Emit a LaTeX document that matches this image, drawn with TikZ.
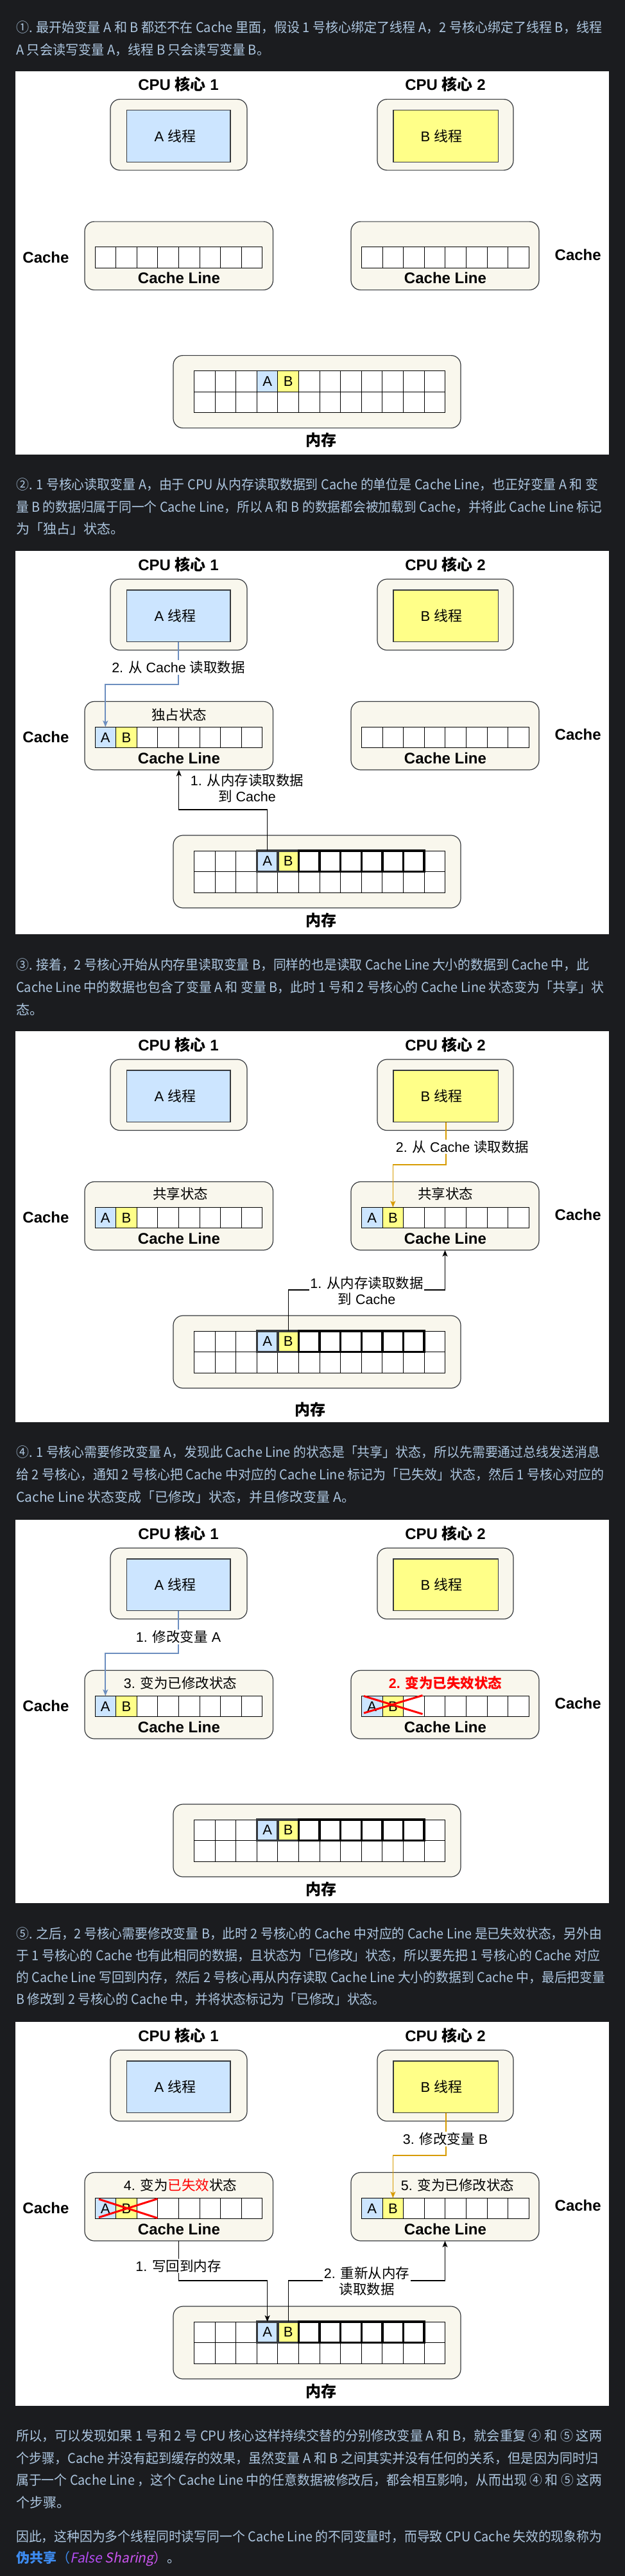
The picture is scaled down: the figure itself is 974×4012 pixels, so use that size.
\documentclass[tikz,border=0pt]{standalone}
\usepackage{fontspec}
\usepackage{graphicx}
\setmainfont{Liberation Sans}
\newfontfamily\cjk{Noto Sans CJK SC}
\newfontfamily\cjkit[FakeSlant=0.2]{Noto Sans CJK SC}
\usetikzlibrary{arrows.meta}
\definecolor{bgdark}{HTML}{1B1C1F}
\definecolor{ptext}{HTML}{ADC6E0}
\definecolor{cream}{HTML}{F9F7ED}
\definecolor{edgegray}{HTML}{36393D}
\definecolor{threadblue}{HTML}{CCE5FF}
\definecolor{threadyellow}{HTML}{FFFF88}
\definecolor{arrowblue}{HTML}{6C8EBF}
\definecolor{arroworange}{HTML}{D79B00}
\definecolor{fsblue}{HTML}{3D8BF0}
\definecolor{fspurple}{HTML}{B24CF2}
\definecolor{fspink}{HTML}{CC55F0}
\tikzset{
  title/.style={font=\fontsize{24}{28}\selectfont\bfseries, inner sep=0pt},
  outerbox/.style={draw=edgegray, fill=cream, line width=1.2pt, rounded corners=15pt, inner sep=0pt, outer sep=0pt},
  thbox/.style={draw=edgegray, line width=1.2pt, inner sep=0pt, outer sep=0pt},
  thlbl/.style={font=\fontsize{22}{26}\selectfont, inner sep=0pt},
  cell/.style={draw=black, fill=white, line width=1pt, minimum width=32.6pt, minimum height=32.5pt, inner sep=0pt, outer sep=0pt, font=\fontsize{22}{26}\selectfont},
  statelbl/.style={font=\fontsize{21.5}{25}\selectfont, inner sep=0pt},
  elbl/.style={font=\fontsize{21.5}{25}\selectfont, inner sep=1.5pt, fill=white, align=center},
  conn/.style={line width=1.2pt, -{Stealth[length=10pt,width=8pt,inset=2.5pt]}},
  blk/.style={conn, draw=black},
  blu/.style={conn, draw=arrowblue, line width=1.8pt},
  org/.style={conn, draw=arroworange, line width=1.8pt},
  hlgray/.style={draw=edgegray, line width=3.5pt},
  hlblack/.style={draw=black, line width=3.5pt},
  redx/.style={draw=red, line width=3pt},
  para/.style={font=\cjk\fontsize{21}{25}\selectfont, text=ptext, inner sep=0pt, anchor=west},
}
\newcommand\panelbase[4]{%
  \fill[white] (24,0) rectangle (949,#2);
  \node[title] (#1ti1) at (278,21) {CPU {\cjk 核心} 1};
  \node[title] (#1ti2) at (694,21) {CPU {\cjk 核心} 2};
  \node[outerbox, minimum width=213pt, minimum height=110.5pt] (#1core1) at (278.5,99.25) {};
  \node[thbox, fill=threadblue, minimum width=161.5pt, minimum height=80.5pt] (#1thA) at (278.25,101.25) {};
  \node[thlbl] (#1thAl) at (273,101.25) {A {\cjk 线程}};
  \node[outerbox, minimum width=212pt, minimum height=110.5pt] (#1core2) at (694,99.25) {};
  \node[thbox, fill=threadyellow, minimum width=163.5pt, minimum height=80.5pt] (#1thB) at (694.75,101.25) {};
  \node[thlbl] (#1thBl) at (688,101.25) {B {\cjk 线程}};
  \node[outerbox, minimum width=293.5pt, minimum height=106.5pt] (#1cache1) at (278.75,287.75) {};
  \node[outerbox, minimum width=293pt, minimum height=106.5pt] (#1cache2) at (693.5,287.75) {};
  \node[title] (#1cl1) at (279,322.5) {Cache Line};
  \node[title] (#1cl2) at (694,322.5) {Cache Line};
  \node[title] (#1cL) at (71.5,290) {Cache};
  \node[title] (#1cR) at (900.7,286) {Cache};
  \node[outerbox, minimum width=448pt, minimum height=113pt] (#1mem) at (494,499.5) {};
  \node[title] (#1meml) at (#3,#4) {\cjk 内存};
}
\newcommand\cacherow[3]{%
  \ifnum#3=1
    \node[cell, fill=threadblue] (#10) at (#2,290.5) {A};
    \node[cell, fill=threadyellow] (#11) at ({#2+32.6},290.5) {B};
  \else
    \node[cell] (#10) at (#2,290.5) {};
    \node[cell] (#11) at ({#2+32.6},290.5) {};
  \fi
  \foreach \i in {2,...,7}{\node[cell] (#1\i) at ({#2+32.6*\i},290.5) {};}
}
\newcommand\memgrid[2]{%
  \foreach \i in {0,1,2,5,6,7,8,9,10,11}{\node[cell] (#1t\i) at ({318.8+32.6*\i},483.25) {};}
  \node[cell, fill=threadblue] (#1t3) at ({318.8+32.6*3},483.25) {A};
  \node[cell, fill=threadyellow] (#1t4) at ({318.8+32.6*4},483.25) {B};
  \foreach \i in {0,...,11}{\node[cell] (#1u\i) at ({318.8+32.6*\i},515.75) {};}
  \ifnum#2=1
    \draw[hlgray] (#1t3.north west) rectangle (#1t3.south east);
    \draw[hlgray] (#1t4.north west) rectangle (#1t4.south east);
    \foreach \i in {5,...,10}{\draw[hlblack] (#1t\i.north west) rectangle (#1t\i.south east);}
  \fi
}
\newcommand\pl[4]{\node[para] (#1) at (25,#2) {\resizebox{#3pt}{\height}{#4}};}
\newcommand\pn[3]{\node[para] (#1) at (25,#2) {#3};}
\begin{document}
\begin{tikzpicture}[x=1pt,y=-1pt]
\useasboundingbox (0,0) rectangle (974,4012);
\fill[bgdark] (0,0) rectangle (974,4012);

% ---------- paragraph 1
\pl{ta1}{43}{913}{①. 最开始变量 A 和 B 都还不在 Cache 里面，假设 1 号核心绑定了线程 A，2 号核心绑定了线程 B，线程}
\pl{ta2}{77.5}{395}{A 只会读写变量 A，线程 B 只会读写变量 B。}

% ---------- panel 1
\begin{scope}[shift={(0,110.6)}]
  \panelbase{pa}{597}{500}{575}
  \cacherow{paa}{164.3}{0}
  \cacherow{pab}{579.8}{0}
  \memgrid{pam}{0}
\end{scope}

% ---------- paragraph 2
\pl{tb1}{755}{907}{②. 1 号核心读取变量 A，由于 CPU 从内存读取数据到 Cache 的单位是 Cache Line，也正好变量 A 和 变}
\pl{tb2}{789.5}{913}{量 B 的数据归属于同一个 Cache Line，所以 A 和 B 的数据都会被加载到 Cache，并将此 Cache Line 标记}
\pn{tb3}{824}{为「独占」状态。}

% ---------- panel 2
\begin{scope}[shift={(0,858)}]
  \panelbase{pb}{597}{500}{575}
  \node[statelbl] (pbst1) at (279,255) {\cjk 独占状态};
  \cacherow{pba}{164.3}{1}
  \cacherow{pbb}{579.8}{0}
  \memgrid{pbm}{1}
  \draw[blu] (pbthA.south) -- ++(0,66.5) -| (pba0.north);
  \node[elbl] (pbe1) at (278,181.6) {2. {\cjk 从} Cache {\cjk 读取数据}};
  \draw[blk] (pbmt3.north) -- ++(0,-64) -| (pbcache1.south);
  \node[elbl, fill=none] (pbe2) at (385,369.5) {1. {\cjk 从内存读取数据}\\{\cjk 到} Cache};
\end{scope}

% ---------- paragraph 3
\pl{tc1}{1503}{893}{③. 接着，2 号核心开始从内存里读取变量 B，同样的也是读取 Cache Line 大小的数据到 Cache 中，此}
\pl{tc2}{1537.5}{916}{Cache Line 中的数据也包含了变量 A 和 变量 B，此时 1 号和 2 号核心的 Cache Line 状态变为「共享」状}
\pn{tc3}{1572}{态。}

% ---------- panel 3
\begin{scope}[shift={(0,1606)}]
  \panelbase{pc}{609}{483}{589}
  \node[statelbl] (pcst1) at (281,253.6) {\cjk 共享状态};
  \node[statelbl] (pcst2) at (694,253.6) {\cjk 共享状态};
  \cacherow{pca}{164.3}{1}
  \cacherow{pcb}{579.8}{1}
  \memgrid{pcm}{1}
  \draw[org] (pcthB.south) -- ++(0,66.5) -| (pcb1.north);
  \node[elbl] (pce1) at (720.6,180) {2. {\cjk 从} Cache {\cjk 读取数据}};
  \draw[blk] (pcmt4.north) -- ++(0,-64) -| (pccache2.south);
  \node[elbl] (pce2) at (571.5,404.5) {1. {\cjk 从内存读取数据}\\{\cjk 到} Cache};
\end{scope}

% ---------- paragraph 4
\pl{td1}{2262}{910}{④. 1 号核心需要修改变量 A，发现此 Cache Line 的状态是「共享」状态，所以先需要通过总线发送消息}
\pl{td2}{2297}{916}{给 2 号核心，通知 2 号核心把 Cache 中对应的 Cache Line 标记为「已失效」状态，然后 1 号核心对应的}
\pn{td3}{2332}{Cache Line 状态变成「已修改」状态，并且修改变量 A。}

% ---------- panel 4
\begin{scope}[shift={(0,2367)}]
  \panelbase{pd}{597}{500}{575}
  \node[statelbl] (pdst1) at (281,254) {3. {\cjk 变为已修改状态}};
  \node[statelbl, text=red, font=\fontsize{21.5}{25}\selectfont\bfseries] (pdst2) at (694,254) {2. {\cjk 变为已失效状态}};
  \cacherow{pda}{164.3}{1}
  \cacherow{pdb}{579.8}{1}
  \memgrid{pdm}{1}
  \draw[redx] (567,274.5) -- (658.5,302.5);
  \draw[redx] (567,301) -- (658.5,273.5);
  \draw[blu] (pdthA.south) -- ++(0,66.5) -| (pda0.north);
  \node[elbl] (pde1) at (278,182) {1. {\cjk 修改变量} A};
\end{scope}

% ---------- paragraph 5
\pl{te1}{3012}{913}{⑤. 之后，2 号核心需要修改变量 B，此时 2 号核心的 Cache 中对应的 Cache Line 是已失效状态，另外由}
\pl{te2}{3046}{910}{于 1 号核心的 Cache 也有此相同的数据，且状态为「已修改」状态，所以要先把 1 号核心的 Cache 对应}
\pl{te3}{3080}{918}{的 Cache Line 写回到内存，然后 2 号核心再从内存读取 Cache Line 大小的数据到 Cache 中，最后把变量}
\pl{te4}{3114}{575}{B 修改到 2 号核心的 Cache 中，并将状态标记为「已修改」状态。}

% ---------- panel 5
\begin{scope}[shift={(0,3149)}]
  \panelbase{pe}{598}{500}{575}
  \node[statelbl] (pest1) at (281,254) {4. {\cjk 变为{\color{red}已失效}状态}};
  \node[statelbl] (pest2) at (713,254) {5. {\cjk 变为已修改状态}};
  \cacherow{pea}{164.3}{1}
  \cacherow{peb}{579.8}{1}
  \memgrid{pem}{1}
  \draw[redx] (154,276) -- (245.4,305.5);
  \draw[redx] (154,304.5) -- (245.4,275.5);
  \draw[org] (pethB.south) -- ++(0,66.5) -| (peb1.north);
  \node[elbl] (pee1) at (694,182.5) {3. {\cjk 修改变量} B};
  \draw[blk] (pecache1.south) -- ++(0,62) -| (pemt3.north);
  \node[elbl] (pee2) at (278,380) {1. {\cjk 写回到内存}};
  \draw[blk] (pemt4.north) -- ++(0,-64) -| (pecache2.south);
  \node[elbl] (pee3) at (571.5,404) {2. {\cjk 重新从内存}\\{\cjk 读取数据}};
\end{scope}

% ---------- closing paragraphs
\pl{tf1}{3794}{913}{所以，可以发现如果 1 号和 2 号 CPU 核心这样持续交替的分别修改变量 A 和 B，就会重复 ④ 和 ⑤ 这两}
\pl{tf2}{3828.5}{907}{个步骤，Cache 并没有起到缓存的效果，虽然变量 A 和 B 之间其实并没有任何的关系，但是因为同时归}
\pl{tf3}{3863}{913}{属于一个 Cache Line ，这个 Cache Line 中的任意数据被修改后，都会相互影响，从而出现 ④ 和 ⑤ 这两}
\pn{tf4}{3897.5}{个步骤。}
\pl{tg1}{3951}{913}{因此，这种因为多个线程同时读写同一个 Cache Line 的不同变量时，而导致 CPU Cache 失效的现象称为}
\pn{tg2}{3985.5}{{\bfseries\color{fsblue}伪共享}{\color{fsblue}（}{\cjkit\color{fspurple}False {\color{fspink}Sharing}}{\color{fspink}）}。}
\end{tikzpicture}
\end{document}
